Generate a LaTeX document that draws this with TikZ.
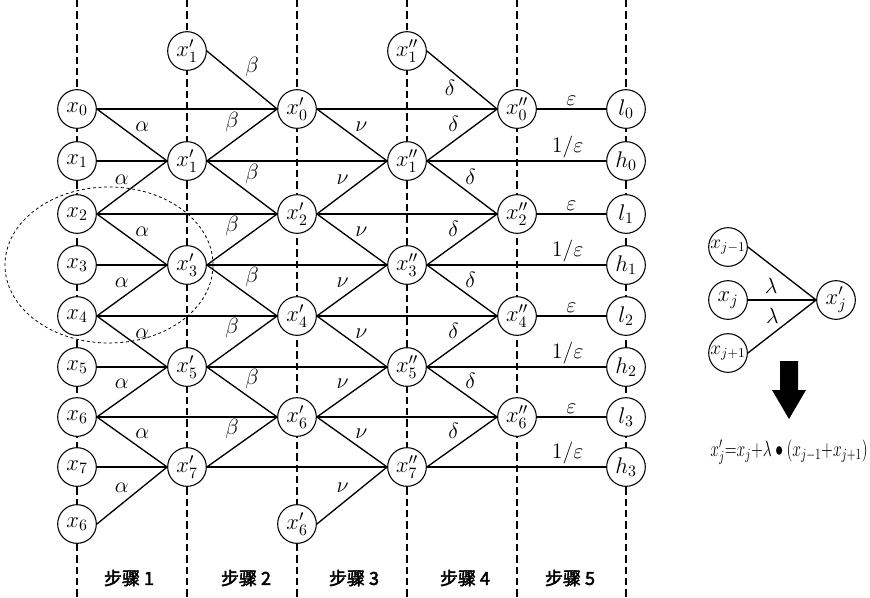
\RequirePackage{fix-cm}
\documentclass[tikz,border=0pt]{standalone}
\usepackage{fontspec}
\usepackage{graphicx}
\newfontfamily\cjk[FakeBold=2.5]{Noto Sans CJK SC}
\begin{document}
\begin{tikzpicture}[x=0.75pt,y=-0.75pt,
  nd/.style={circle,draw,line width=0.8pt,fill=white,minimum size=29pt,inner sep=-4pt,font=\fontsize{17}{17}\selectfont},
  smallnd/.style={nd,font=\fontsize{14.5}{14.5}\selectfont},
  edge/.style={line width=1pt},
  lab/.style={font=\fontsize{16.5}{16.5}\selectfont,inner sep=2pt,auto},
  colline/.style={line width=0.9pt,dash pattern=on 5.5pt off 3pt},
  steplab/.style={font=\cjk\fontsize{13.5}{13.5}\selectfont},
  bigarrow/.style={fill=black,draw=none}]
\useasboundingbox (0,0) rectangle (870,597);
% dashed columns
\foreach \c in {77,187,297,407,517,626} \draw[colline] (\c,0) -- (\c,597);
% grouping ellipse
\draw[line width=0.6pt,dash pattern=on 2.2pt off 2pt] (109,265) ellipse [x radius=78pt, y radius=58.5pt];
% column 1
\node[nd] (a0) at (77,109) {$x_0$};
\node[nd] (a1) at (77,161) {$x_1$};
\node[nd] (a2) at (77,214) {$x_2$};
\node[nd] (a3) at (77,265) {$x_3$};
\node[nd] (a4) at (77,316) {$x_4$};
\node[nd] (a5) at (77,367) {$x_5$};
\node[nd] (a6) at (77,417) {$x_6$};
\node[nd] (a7) at (77,467) {$x_7$};
\node[nd] (a8) at (77,524) {$x_6$};
% column 2
\node[nd] (b1t) at (187,51) {$x'_1$};
\node[nd] (b1) at (187,161) {$x'_1$};
\node[nd] (b3) at (187,265) {$x'_3$};
\node[nd] (b5) at (187,367) {$x'_5$};
\node[nd] (b7) at (187,467) {$x'_7$};
% column 3
\node[nd] (c0) at (297,109) {$x'_0$};
\node[nd] (c2) at (297,214) {$x'_2$};
\node[nd] (c4) at (297,316) {$x'_4$};
\node[nd] (c6) at (297,417) {$x'_6$};
\node[nd] (c8) at (297,524) {$x'_6$};
% column 4
\node[nd] (d1t) at (407,51) {$x''_1$};
\node[nd] (d1) at (407,161) {$x''_1$};
\node[nd] (d3) at (407,265) {$x''_3$};
\node[nd] (d5) at (407,367) {$x''_5$};
\node[nd] (d7) at (407,467) {$x''_7$};
% column 5
\node[nd] (e0) at (517,109) {$x''_0$};
\node[nd] (e2) at (517,214) {$x''_2$};
\node[nd] (e4) at (517,316) {$x''_4$};
\node[nd] (e6) at (517,417) {$x''_6$};
% column 6
\node[nd] (l0) at (626,109) {$l_0$};
\node[nd] (h0) at (626,161) {$h_0$};
\node[nd] (l1) at (626,214) {$l_1$};
\node[nd] (h1) at (626,265) {$h_1$};
\node[nd] (l2) at (626,316) {$l_2$};
\node[nd] (h2) at (626,367) {$h_2$};
\node[nd] (l3) at (626,417) {$l_3$};
\node[nd] (h3) at (626,467) {$h_3$};
% step 1
\draw[edge] (a1.east) -- (b1.west);
\draw[edge] (a3.east) -- (b3.west);
\draw[edge] (a5.east) -- (b5.west);
\draw[edge] (a7.east) -- (b7.west);
\draw[edge] (a0.east) -- node[lab]{$\alpha$} (b1.west);
\draw[edge] (a2.east) -- node[lab]{$\alpha$} (b1.west);
\draw[edge] (a2.east) -- node[lab]{$\alpha$} (b3.west);
\draw[edge] (a4.east) -- node[lab]{$\alpha$} (b3.west);
\draw[edge] (a4.east) -- node[lab]{$\alpha$} (b5.west);
\draw[edge] (a6.east) -- node[lab]{$\alpha$} (b5.west);
\draw[edge] (a6.east) -- node[lab]{$\alpha$} (b7.west);
\draw[edge] (a8.east) -- node[lab]{$\alpha$} (b7.west);
\draw[edge] (a0.east) -- (c0.west);
\draw[edge] (a2.east) -- (c2.west);
\draw[edge] (a4.east) -- (c4.west);
\draw[edge] (a6.east) -- (c6.west);
% step 2
\draw[edge] (b1t.east) -- node[lab]{$\beta$} (c0.west);
\draw[edge] (b1.east) -- node[lab]{$\beta$} (c0.west);
\draw[edge] (b1.east) -- node[lab]{$\beta$} (c2.west);
\draw[edge] (b3.east) -- node[lab]{$\beta$} (c2.west);
\draw[edge] (b3.east) -- node[lab]{$\beta$} (c4.west);
\draw[edge] (b5.east) -- node[lab]{$\beta$} (c4.west);
\draw[edge] (b5.east) -- node[lab]{$\beta$} (c6.west);
\draw[edge] (b7.east) -- node[lab]{$\beta$} (c6.west);
\draw[edge] (b1.east) -- (d1.west);
\draw[edge] (b3.east) -- (d3.west);
\draw[edge] (b5.east) -- (d5.west);
\draw[edge] (b7.east) -- (d7.west);
% step 3
\draw[edge] (c0.east) -- node[lab]{$\nu$} (d1.west);
\draw[edge] (c2.east) -- node[lab]{$\nu$} (d1.west);
\draw[edge] (c2.east) -- node[lab]{$\nu$} (d3.west);
\draw[edge] (c4.east) -- node[lab]{$\nu$} (d3.west);
\draw[edge] (c4.east) -- node[lab]{$\nu$} (d5.west);
\draw[edge] (c6.east) -- node[lab]{$\nu$} (d5.west);
\draw[edge] (c6.east) -- node[lab]{$\nu$} (d7.west);
\draw[edge] (c8.east) -- node[lab]{$\nu$} (d7.west);
\draw[edge] (c0.east) -- (e0.west);
\draw[edge] (c2.east) -- (e2.west);
\draw[edge] (c4.east) -- (e4.west);
\draw[edge] (c6.east) -- (e6.west);
% step 4
\draw[edge] (d1t.east) -- node[lab,swap,pos=0.45]{$\delta$} (e0.west);
\draw[edge] (d1.east) -- node[lab]{$\delta$} (e0.west);
\draw[edge] (d1.east) -- node[lab]{$\delta$} (e2.west);
\draw[edge] (d3.east) -- node[lab]{$\delta$} (e2.west);
\draw[edge] (d3.east) -- node[lab]{$\delta$} (e4.west);
\draw[edge] (d5.east) -- node[lab]{$\delta$} (e4.west);
\draw[edge] (d5.east) -- node[lab]{$\delta$} (e6.west);
\draw[edge] (d7.east) -- node[lab]{$\delta$} (e6.west);
% step 5
\draw[edge] (e0.east) -- node[lab]{$\varepsilon$} (l0.west);
\draw[edge] (d1.east) -- node[lab,pos=0.785]{$1/\varepsilon$} (h0.west);
\draw[edge] (e2.east) -- node[lab]{$\varepsilon$} (l1.west);
\draw[edge] (d3.east) -- node[lab,pos=0.785]{$1/\varepsilon$} (h1.west);
\draw[edge] (e4.east) -- node[lab]{$\varepsilon$} (l2.west);
\draw[edge] (d5.east) -- node[lab,pos=0.785]{$1/\varepsilon$} (h2.west);
\draw[edge] (e6.east) -- node[lab]{$\varepsilon$} (l3.west);
\draw[edge] (d7.east) -- node[lab,pos=0.785]{$1/\varepsilon$} (h3.west);
% step labels
\node[steplab] (s1) at (129,578) {步骤 1};
\node[steplab] (s2) at (246,578) {步骤 2};
\node[steplab] (s3) at (354,578) {步骤 3};
\node[steplab] (s4) at (465,578) {步骤 4};
\node[steplab] (s5) at (570,578) {步骤 5};
% inset
\node[smallnd] (p1) at (728,247) {$x_{j-1}$};
\node[nd] (p2) at (728,300) {$x_j$};
\node[smallnd] (p3) at (728,353) {$x_{j+1}$};
\node[nd] (q) at (836,300) {$x'_j$};
\draw[edge] (p1.east) -- node[lab,swap,pos=0.5,inner sep=3pt]{$\lambda$} (q.west);
\draw[edge] (p2.east) -- (q.west);
\draw[edge] (p3.east) -- node[lab,pos=0.5,inner sep=2pt]{$\lambda$} (q.west);
\fill[bigarrow] (780,361) -- (798,361) -- (798,390) -- (806,390) -- (789,419) -- (772,390) -- (780,390) -- cycle;
\node[anchor=east,inner sep=0pt,font=\fontsize{14}{14}\selectfont] (f) at (868,452) {\resizebox{118pt}{12.5pt}{$x'_j{=}x_j{+}\lambda\bullet(x_{j-1}{+}x_{j+1})$}};
\end{tikzpicture}
\end{document}
